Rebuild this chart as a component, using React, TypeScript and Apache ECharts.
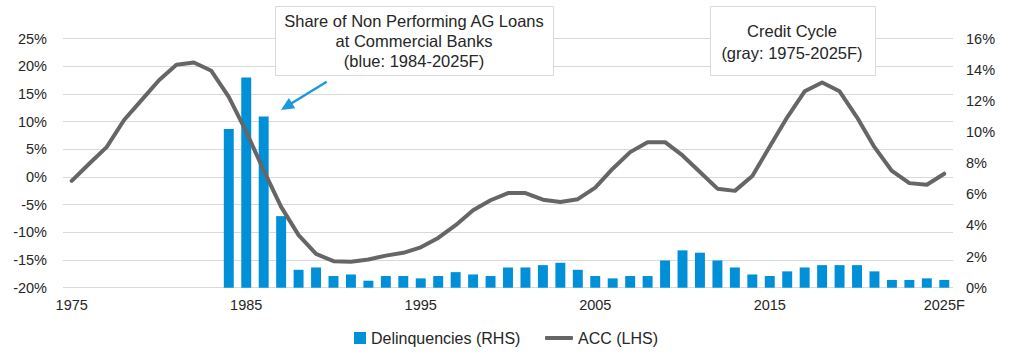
import React, { useEffect, useRef } from "react";
import * as echarts from "echarts";

const years: string[] = [
  "1975","1976","1977","1978","1979","1980","1981","1982","1983","1984",
  "1985","1986","1987","1988","1989","1990","1991","1992","1993","1994",
  "1995","1996","1997","1998","1999","2000","2001","2002","2003","2004",
  "2005","2006","2007","2008","2009","2010","2011","2012","2013","2014",
  "2015","2016","2017","2018","2019","2020","2021","2022","2023","2024",
  "2025F",
];

// ACC (LHS), %
const acc: number[] = [
  -0.7, 2.4, 5.4, 10.3, 13.9, 17.5, 20.3, 20.7, 19.2, 14.5,
  8.2, 1.2, -5.4, -10.5, -13.9, -15.2, -15.3, -14.9, -14.2, -13.7,
  -12.7, -11.0, -8.7, -6.0, -4.2, -2.9, -2.9, -4.1, -4.5, -4.0,
  -1.9, 1.5, 4.5, 6.3, 6.3, 3.9, 0.9, -2.1, -2.5, 0.2,
  5.5, 10.8, 15.5, 17.1, 15.5, 10.8, 5.4, 1.1, -1.1, -1.4,
  0.6,
];

// Delinquencies (RHS), % (data from 1984)
const delinquencies: (number | null)[] = [
  null, null, null, null, null, null, null, null, null, 10.2,
  13.5, 11.0, 4.6, 1.15, 1.3, 0.75, 0.85, 0.45, 0.75, 0.75,
  0.6, 0.75, 1.0, 0.85, 0.75, 1.3, 1.3, 1.45, 1.6, 1.15,
  0.75, 0.6, 0.75, 0.75, 1.75, 2.4, 2.25, 1.75, 1.3, 0.85,
  0.75, 1.05, 1.3, 1.45, 1.45, 1.45, 1.05, 0.5, 0.5, 0.6,
  0.5,
];

const annotation1: string[] = [
  "Share of Non Performing AG Loans",
  "at Commercial Banks",
  "(blue: 1984-2025F)",
];
const annotation2: string[] = ["Credit Cycle", "(gray: 1975-2025F)"];

const FONT = "'Liberation Sans', Arial, sans-serif";
const BLUE = "#0090d8";
const GRAY = "#666666";
const TEXT = "#262626";

export default function App() {
  const ref = useRef<HTMLDivElement>(null);

  useEffect(() => {
    if (!ref.current) return;
    const chart = echarts.init(ref.current, null, { renderer: "svg" });

    const annoText = (t: string, x: number, y: number) => ({
      type: "text",
      x,
      y,
      z: 101,
      style: {
        text: t,
        fill: TEXT,
        font: `16.5px ${FONT}`,
        textAlign: "center",
        textVerticalAlign: "middle",
      },
    });

    chart.setOption({
      animation: false,
      backgroundColor: "#ffffff",
      textStyle: { fontFamily: FONT },
      grid: {
        left: 63,
        right: 59,
        top: 38.7,
        bottom: 68.3,
        outerBoundsMode: "none",
      },
      legend: [
        {
          left: 349,
          top: 325,
          itemWidth: 12,
          itemHeight: 12,
          itemGap: 0,
          data: [{ name: "Delinquencies (RHS)", icon: "rect" }],
          textStyle: { fontSize: 16, color: TEXT, fontFamily: FONT },
        },
        {
          left: 540,
          top: 325,
          itemWidth: 28,
          itemHeight: 4,
          data: [{ name: "ACC (LHS)", icon: "roundRect" }],
          textStyle: { fontSize: 16, color: TEXT, fontFamily: FONT },
        },
      ],
      xAxis: {
        type: "category",
        data: years,
        boundaryGap: true,
        axisLine: { show: false },
        axisTick: { show: false },
        axisLabel: {
          interval: 9,
          margin: 10,
          fontSize: 14.5,
          color: TEXT,
          fontFamily: FONT,
        },
        splitLine: { show: false },
      },
      yAxis: [
        {
          type: "value",
          min: -20,
          max: 25,
          interval: 5,
          axisLine: { show: false },
          axisTick: { show: false },
          axisLabel: {
            formatter: "{value}%",
            margin: 16,
            fontSize: 14.5,
            color: TEXT,
            fontFamily: FONT,
          },
          splitLine: { lineStyle: { color: "#d9d9d9", width: 1 } },
        },
        {
          type: "value",
          min: 0,
          max: 16,
          interval: 2,
          position: "right",
          axisLine: { show: false },
          axisTick: { show: false },
          axisLabel: {
            formatter: "{value}%",
            margin: 13,
            fontSize: 14.5,
            color: TEXT,
            fontFamily: FONT,
          },
          splitLine: { show: false },
        },
      ],
      series: [
        {
          name: "Delinquencies (RHS)",
          type: "bar",
          yAxisIndex: 1,
          data: delinquencies,
          barWidth: "57%",
          itemStyle: { color: BLUE },
          z: 2,
        },
        {
          name: "ACC (LHS)",
          type: "line",
          yAxisIndex: 0,
          data: acc,
          smooth: false,
          showSymbol: false,
          symbol: "none",
          lineStyle: { color: GRAY, width: 4, join: "round", cap: "round" },
          itemStyle: { color: GRAY },
          z: 3,
        },
      ],
      graphic: [
        {
          type: "rect",
          z: 100,
          shape: { x: 275.5, y: 6.5, width: 278, height: 69 },
          style: { fill: "#ffffff", stroke: "#d9d9d9", lineWidth: 1 },
        },
        annoText(annotation1[0], 414, 20.5),
        annoText(annotation1[1], 414, 40.5),
        annoText(annotation1[2], 414, 60.5),
        {
          type: "rect",
          z: 100,
          shape: { x: 710.5, y: 6.5, width: 165, height: 69 },
          style: { fill: "#ffffff", stroke: "#d9d9d9", lineWidth: 1 },
        },
        annoText(annotation2[0], 792, 30.5),
        annoText(annotation2[1], 792, 53),
        {
          type: "line",
          z: 100,
          shape: { x1: 326.7, y1: 81.7, x2: 290, y2: 104.3 },
          style: { stroke: "#1a9ad8", lineWidth: 2.5 },
        },
        {
          type: "polygon",
          z: 100,
          shape: {
            points: [
              [281, 110],
              [288.9, 98.1],
              [295.2, 108.3],
            ],
          },
          style: { fill: "#1a9ad8" },
        },
      ],
    });

    return () => chart.dispose();
  }, []);

  return (
    <div
      ref={ref}
      style={{
        position: "absolute",
        left: 0,
        top: 0,
        width: 1012,
        height: 356,
        background: "#fff",
      }}
    />
  );
}
